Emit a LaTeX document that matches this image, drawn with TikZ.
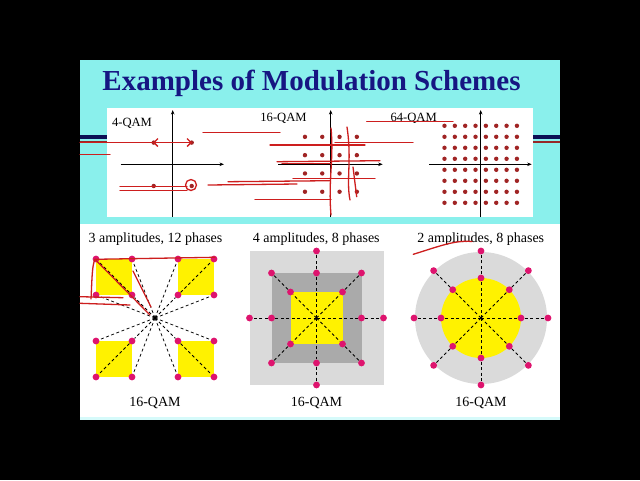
\documentclass[tikz,border=0pt]{standalone}
\usepackage{fontspec}
\setmainfont{Liberation Serif}
\usepackage{tikz}
\usetikzlibrary{arrows.meta}
\usepackage{xcolor}
\definecolor{ciano}{RGB}{138,240,236}
\definecolor{cianoclaro}{RGB}{214,250,250}
\definecolor{azultitulo}{RGB}{22,22,130}
\definecolor{marinho}{RGB}{12,16,84}
\definecolor{faixa}{RGB}{150,40,40}
\definecolor{ponto}{RGB}{160,36,36}
\definecolor{rosa}{RGB}{222,20,110}
\definecolor{tinta}{RGB}{205,30,30}
\definecolor{cinzaclaro}{RGB}{218,218,218}
\definecolor{cinzaescuro}{RGB}{170,170,170}

\begin{document}
\begin{tikzpicture}[x=1pt, y=-1pt,
    eixo/.style={-{Stealth[length=4.5pt,width=3.5pt]}, line width=0.9pt},
    pto/.style={circle, fill=ponto, inner sep=0pt, minimum size=4.4pt},
    ptorosa/.style={circle, fill=rosa, inner sep=0pt, minimum size=6.8pt},
    raio/.style={dash pattern=on 3pt off 2.5pt, line width=0.75pt},
    tinta/.style={draw=tinta, line width=1.3pt, line cap=round, line join=round},
    rotulo/.style={font=\fontsize{12.6}{14}\selectfont, anchor=base},
    legenda/.style={font=\fontsize{14}{16}\selectfont, anchor=base}]
    % Fundo
    \fill[black] (0,0) rectangle (640,480);
    \useasboundingbox (0,0) rectangle (640,480);
    \fill[ciano] (80,60) rectangle (560,224);
    \fill[white] (80,224) rectangle (560,417);
    \fill[cianoclaro] (80,417) rectangle (560,420);
    % Faixas
    \fill[marinho] (80,134.5) rectangle (107,139.2);
    \fill[marinho] (533,134.5) rectangle (560,139.2);
    \fill[faixa] (80,141.3) rectangle (107,143);
    \fill[faixa] (533,141.3) rectangle (560,143);
    \fill[white] (107,108) rectangle (533,217);
    % Titulo
    \node[font=\bfseries\fontsize{29}{32}\selectfont, text=azultitulo, anchor=base]
        (titulo) at (311.5,90) {Examples of Modulation Schemes};
    % 4-QAM
    \draw[eixo] (172.7,217) -- (172.7,110);
    \draw[eixo] (120.7,164.3) -- (224,164.3);
    \foreach \i [count=\a] in {-1,1} {
        \foreach \j [count=\b] in {-1,1} {
            \node[pto] (q4-\a\b) at (\i*19+172.7, \j*21.7+164.3) {};
        }
    }
    \node[rotulo] (r4) at (132,126.7) {4-QAM};
    % 16-QAM
    \draw[eixo] (330.7,217) -- (330.7,110);
    \draw[eixo] (278,164.3) -- (382.7,164.3);
    \foreach \i [count=\a] in {-1.5,-0.5,0.5,1.5} {
        \foreach \j [count=\b] in {-1.5,-0.5,0.5,1.5} {
            \node[pto] (q16-\a\b) at (\i*17.3+330.9, \j*18.3+164.3) {};
        }
    }
    \node[rotulo] (r16) at (283.5,121.7) {16-QAM};
    % 64-QAM
    \draw[eixo] (480.7,217) -- (480.7,110);
    \draw[eixo] (429,164.3) -- (531.7,164.3);
    \foreach \i [count=\a] in {-3.5,-2.5,...,3.5} {
        \foreach \j [count=\b] in {-3.5,-2.5,...,3.5} {
            \node[pto] (q64-\a-\b) at (\i*10.35+480.7, \j*11+164.3) {};
        }
    }
    \node[rotulo] (r64) at (413.7,121.7) {64-QAM};
    % 3 amplitudes, 12 fases
    \coordinate (c1) at (155,318);
    \foreach \sx/\sy/\n in {1/1/a,-1/1/b,-1/-1/c,1/-1/d} {
        \fill[yellow] (\sx*23+155, \sy*23+318) rectangle (\sx*59+155, \sy*59+318);
        \node[ptorosa] (c1i\n) at (\sx*23+155, \sy*23+318) {};
        \node[ptorosa] (c1o\n) at (\sx*59+155, \sy*59+318) {};
        \node[ptorosa] (c1h\n) at (\sx*59+155, \sy*23+318) {};
        \node[ptorosa] (c1v\n) at (\sx*23+155, \sy*59+318) {};
    }
    \foreach \n in {a,b,c,d} {
        \draw[raio] (c1) -- (c1i\n) (c1i\n) -- (c1o\n) (c1) -- (c1h\n) (c1) -- (c1v\n);
    }
    % 4 amplitudes, 8 fases
    \coordinate (c2) at (316.5,318);
    \fill[cinzaclaro] (249.5,251) rectangle (383.5,385);
    \fill[cinzaescuro] (271.5,273) rectangle (361.5,363);
    \fill[yellow] (290.5,292) rectangle (342.5,344);
    \foreach \dx/\dy/\ri/\ro [count=\k] in {1/0/45/67, 1/1/26/45, 0/1/45/67, -1/1/26/45,
                                            -1/0/45/67, -1/-1/26/45, 0/-1/45/67, 1/-1/26/45} {
        \node[ptorosa] (c2i\k) at (\dx*\ri+316.5, \dy*\ri+318) {};
        \node[ptorosa] (c2o\k) at (\dx*\ro+316.5, \dy*\ro+318) {};
        \draw[raio] (c2) -- (c2i\k) (c2i\k) -- (c2o\k);
    }
    % 2 amplitudes, 8 fases
    \coordinate (c3) at (481,318);
    \fill[cinzaclaro] (c3) circle (66pt);
    \fill[yellow] (c3) circle (40pt);
    \foreach \ang [count=\k] in {0,45,...,315} {
        \node[ptorosa] (c3i\k) at ([shift={(\ang:40)}]c3) {};
        \node[ptorosa] (c3o\k) at ([shift={(\ang:67)}]c3) {};
        \draw[raio] (c3) -- (c3i\k) (c3i\k) -- (c3o\k);
    }
    % Legendas
    \node[legenda] (t1) at (155.5,242.5) {3 amplitudes, 12 phases};
    \node[legenda] (t2) at (316.3,242.5) {4 amplitudes, 8 phases};
    \node[legenda] (t3) at (480.8,242.5) {2 amplitudes, 8 phases};
    \node[legenda] (n1) at (155,406.5) {16-QAM};
    \node[legenda] (n2) at (316.5,406.5) {16-QAM};
    \node[legenda] (n3) at (481,406.5) {16-QAM};
    % Anotacoes a mao
    \draw[tinta] (80,142.5) -- (153,142.5);
    \draw[tinta, {Straight Barb[length=4pt]}-{Straight Barb[length=4pt]}] (153,142.5) -- (192,142.5);
    \draw[tinta] (80,154.5) -- (110,154.5);
    \draw[tinta] (203,132.7) -- (280,132.7);
    \draw[tinta] (366.7,121.7) -- (453,121.7);
    \draw[tinta] (270,145) -- (365,145);
    \draw[tinta] (335,142.7) -- (413,142.7);
    \draw[tinta] (277,161.7) -- (380,160.7);
    \draw[tinta] (282,163.5) -- (331,163.5);
    \draw[tinta] (293,178.3) -- (375,178.3);
    \draw[tinta] (228,181.7) -- (330,180.7);
    \draw[tinta] (208,185) -- (297,184);
    \draw[tinta] (120,186.5) -- (187,186.5);
    \draw[tinta] (120,190.5) -- (187,190.5);
    \draw[tinta] (191,185) circle (5.5pt);
    \draw[tinta] (255,199.3) -- (331,199.3);
    \draw[tinta] (331,128) .. controls (334,160) and (328,180) .. (331,215);
    \draw[tinta] (347,127) .. controls (352,160) and (346,180) .. (350,200);
    \draw[tinta] (353,167) -- (356.7,196.7);
    \draw[tinta] (80,296.7) -- (123,297.7);
    \draw[tinta] (80,303.3) -- (130,305);
    \draw[tinta] (91,299) .. controls (92,280) and (92,265) .. (95,259.3) -- (215,257.3);
    \draw[tinta] (95,259.3) -- (150,315);
    \draw[tinta] (133,271) -- (151,307);
    \draw[tinta] (413.3,254.3) .. controls (440,246) and (455,240) .. (472,241.5);
\end{tikzpicture}
\end{document}
